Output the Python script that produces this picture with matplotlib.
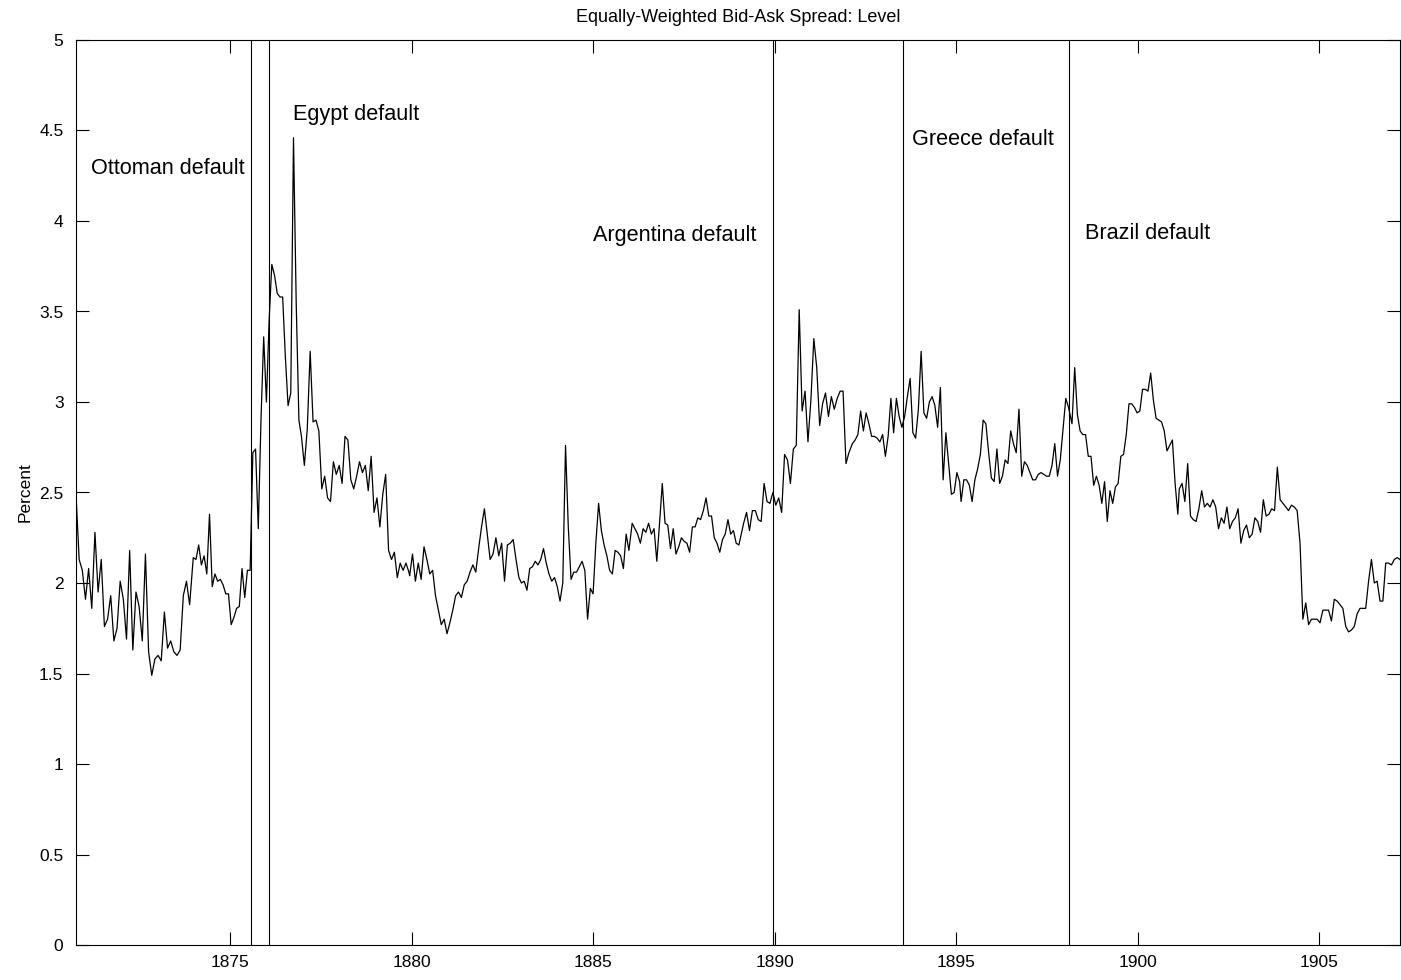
import numpy as np
import matplotlib
matplotlib.use("Agg")
import matplotlib.pyplot as plt

plt.rcParams['font.family'] = ['Liberation Sans', 'DejaVu Sans']

# Spread level (percent) in 12 consecutive stretches of ~3 years
seg_start = [1870.75, 1873.98, 1876.96, 1879.94, 1883.02, 1886.07,
             1889.14, 1892.06, 1895.13, 1898.11, 1901.14, 1904.23]
seg_end = [1873.88, 1876.89, 1879.92, 1882.95, 1885.98, 1889.01,
           1892.04, 1895.09, 1898.09, 1901.10, 1904.15, 1907.22]

s1 = [2.49, 2.13, 2.07, 1.91, 2.08, 1.86, 2.28, 1.95, 2.13, 1.76, 1.80, 1.93, 1.68,
      1.75, 2.01, 1.91, 1.69, 2.18, 1.63, 1.95, 1.87, 1.68, 2.16, 1.62, 1.49, 1.58,
      1.60, 1.57, 1.84, 1.64, 1.68, 1.62, 1.60, 1.63, 1.93, 2.01, 1.88]
s2 = [2.14, 2.13, 2.21, 2.10, 2.15, 2.05, 2.38, 1.98, 2.05, 2.01, 2.02, 1.99, 1.94,
      1.94, 1.77, 1.81, 1.86, 1.87, 2.08, 1.92, 2.07, 2.07, 2.72, 2.74, 2.30, 2.90,
      3.36, 3.00, 3.45, 3.76, 3.70, 3.60, 3.58, 3.58, 3.25, 2.98, 3.05, 4.46, 3.55, 2.90]
s3 = [2.81, 2.65, 2.85, 3.28, 2.89, 2.90, 2.84, 2.52, 2.59, 2.47, 2.45, 2.67, 2.60,
      2.65, 2.55, 2.81, 2.79, 2.57, 2.52, 2.59, 2.67, 2.61, 2.65, 2.51, 2.70, 2.39,
      2.47, 2.31, 2.49, 2.60, 2.18, 2.13, 2.17, 2.03, 2.11, 2.07, 2.11, 2.06]
s4 = [2.04, 2.16, 2.01, 2.11, 2.02, 2.20, 2.13, 2.05, 2.07, 1.93, 1.85, 1.77, 1.80,
      1.72, 1.78, 1.85, 1.93, 1.95, 1.92, 1.99, 2.01, 2.06, 2.10, 2.06, 2.19, 2.31,
      2.41, 2.27, 2.13, 2.16, 2.25, 2.15, 2.22, 2.01, 2.21, 2.22, 2.24, 2.13, 2.03]
s5 = [2.00, 2.01, 1.96, 2.08, 2.09, 2.12, 2.10, 2.13, 2.19, 2.11, 2.05, 2.01, 2.03,
      1.98, 1.90, 2.00, 2.76, 2.31, 2.02, 2.06, 2.06, 2.09, 2.12, 2.07, 1.80, 1.97,
      1.94, 2.22, 2.44, 2.29, 2.21, 2.15, 2.07, 2.05, 2.18, 2.17, 2.15, 2.08, 2.27, 2.18]
s6 = [2.33, 2.30, 2.27, 2.22, 2.30, 2.28, 2.33, 2.27, 2.30, 2.12, 2.33, 2.55, 2.33,
      2.32, 2.19, 2.30, 2.16, 2.20, 2.25, 2.23, 2.22, 2.17, 2.31, 2.31, 2.36, 2.35,
      2.40, 2.47, 2.37, 2.37, 2.25, 2.22, 2.17, 2.24, 2.27, 2.35, 2.27, 2.29, 2.22, 2.21]
s7 = [2.33, 2.39, 2.29, 2.40, 2.40, 2.35, 2.34, 2.55, 2.45, 2.44, 2.50, 2.43, 2.47,
      2.39, 2.71, 2.68, 2.55, 2.74, 2.76, 3.51, 2.95, 3.06, 2.78, 3.01, 3.35, 3.19,
      2.87, 2.99, 3.05, 2.92, 3.03, 2.96, 3.02, 3.06, 3.06, 2.66, 2.72]
s8 = [2.73, 2.77, 2.79, 2.82, 2.95, 2.84, 2.94, 2.88, 2.81, 2.81, 2.80, 2.78, 2.82,
      2.70, 2.81, 3.02, 2.83, 3.02, 2.92, 2.86, 2.92, 3.03, 3.13, 2.83, 2.80, 2.96,
      3.28, 2.94, 2.91, 3.00, 3.03, 2.98, 2.86, 3.08, 2.57, 2.83, 2.66, 2.49, 2.50,
      2.61, 2.56]
s9 = [2.45, 2.57, 2.57, 2.54, 2.45, 2.57, 2.63, 2.71, 2.90, 2.88, 2.72, 2.58, 2.56,
      2.74, 2.55, 2.59, 2.68, 2.66, 2.84, 2.77, 2.72, 2.96, 2.59, 2.67, 2.65, 2.61,
      2.57, 2.57, 2.60, 2.61, 2.60, 2.59, 2.59, 2.65, 2.77, 2.59, 2.68, 2.85, 3.02, 2.97]
s10 = [2.95, 2.88, 3.19, 2.93, 2.84, 2.82, 2.82, 2.70, 2.70, 2.54, 2.59, 2.54, 2.44,
       2.56, 2.34, 2.51, 2.44, 2.53, 2.55, 2.70, 2.71, 2.82, 2.99, 2.99, 2.97, 2.94,
       2.95, 3.07, 3.07, 3.06, 3.16, 3.01, 2.91, 2.90, 2.89, 2.84, 2.73, 2.76, 2.79,
       2.55, 2.38]
s11 = [2.52, 2.55, 2.45, 2.66, 2.37, 2.35, 2.34, 2.41, 2.51, 2.42, 2.44, 2.42, 2.46,
       2.42, 2.30, 2.36, 2.33, 2.42, 2.30, 2.34, 2.36, 2.41, 2.22, 2.29, 2.32, 2.25,
       2.27, 2.36, 2.34, 2.28, 2.46, 2.37, 2.38, 2.41, 2.40, 2.64, 2.46, 2.44, 2.42, 2.40]
s12 = [2.43, 2.42, 2.40, 2.22, 1.80, 1.89, 1.77, 1.80, 1.80, 1.80, 1.78, 1.85, 1.85,
       1.85, 1.79, 1.91, 1.90, 1.88, 1.86, 1.76, 1.73, 1.74, 1.76, 1.83, 1.86, 1.86,
       1.86, 2.01, 2.13, 2.00, 2.01, 1.90, 1.90, 2.11, 2.11, 2.10, 2.13, 2.14, 2.13]
segments = [s1, s2, s3, s4, s5, s6, s7, s8, s9, s10, s11, s12]

# default dates and labels
default_dates = [1875.56, 1876.07, 1889.96, 1893.54, 1898.09]
labels = ["Ottoman default", "Egypt default", "Argentina default",
          "Greece default", "Brazil default"]
label_x = [1871.16, 1876.72, 1884.98, 1893.79, 1898.55]
label_y = [4.29, 4.59, 3.92, 4.45, 3.93]

t = np.concatenate([np.linspace(a, b, len(s)) for a, b, s in zip(seg_start, seg_end, segments)])
spread = np.concatenate(segments)

fig = plt.figure(figsize=(14.01, 9.80), dpi=100)
ax = fig.add_axes([76 / 1401, 35 / 980, 1324 / 1401, 905 / 980])

ax.plot(t, spread, color='black', linewidth=0.9)
for d in default_dates:
    ax.axvline(d, color='black', linewidth=0.8)
for lab, x, y in zip(labels, label_x, label_y):
    ax.text(x, y, lab, fontsize=15.6, ha='left', va='center')

ax.set_xlim(1870.75, 1907.22)
ax.set_ylim(0, 5)
ax.set_xticks([1875, 1880, 1885, 1890, 1895, 1900, 1905])
yt = np.arange(0, 5.01, 0.5)
ax.set_yticks(yt)
ax.set_yticklabels(['%g' % v for v in yt])
ax.tick_params(direction='in', length=9.5, width=0.8, top=True, right=True,
               labelsize=12.5)
ax.tick_params(axis='y', pad=9)
ax.tick_params(axis='x', pad=7)
for sp in ax.spines.values():
    sp.set_linewidth(0.8)

ax.set_ylabel("Percent", fontsize=12.5, labelpad=5)
ax.set_title("Equally-Weighted Bid-Ask Spread: Level", fontsize=13, pad=13)

fig.savefig("out.png", dpi=100)
